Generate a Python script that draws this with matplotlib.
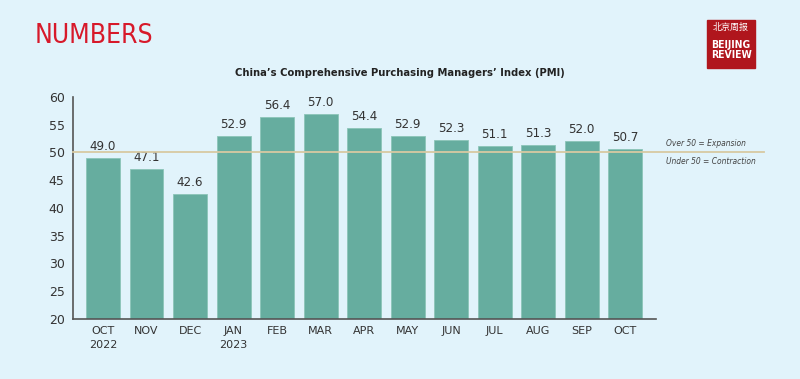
import matplotlib.pyplot as plt
from matplotlib.patches import Rectangle

months = ["OCT\n2022", "NOV", "DEC", "JAN\n2023", "FEB", "MAR", "APR",
          "MAY", "JUN", "JUL", "AUG", "SEP", "OCT"]
pmi = [49.0, 47.1, 42.6, 52.9, 56.4, 57.0, 54.4, 52.9, 52.3, 51.1, 51.3, 52.0, 50.7]
yticks = [20, 25, 30, 35, 40, 45, 50, 55, 60]

bg = "#e1f3fb"
bar_color = "#66ad9f"
txt = "#333333"

fig = plt.figure(figsize=(8, 3.79), dpi=100, facecolor=bg)
ax = fig.add_axes([73/800, 1-319/379, (656-73)/800, (319-97)/379])
ax.set_facecolor(bg)

x = list(range(len(pmi)))
ax.bar(x, pmi, width=0.78, color=bar_color, edgecolor="#8cc5b8", linewidth=0.6, zorder=2)
for xi, v in zip(x, pmi):
    ax.text(xi, v + 0.9, f"{v:.1f}", ha="center", va="bottom", fontsize=9.5, color=txt,
            stretch="condensed")

# 50 line, runs past the axes to the notes
ax.axhline(50, xmin=0, xmax=(764-73)/(656-73), color="#d8c9a2", linewidth=1.3,
           clip_on=False, zorder=3)
ax.text(1.018, 50.8, "Over 50 = Expansion", transform=ax.get_yaxis_transform(),
        fontsize=6, style="italic", color="#444444", va="bottom", ha="left",
        stretch="condensed")
ax.text(1.018, 49.1, "Under 50 = Contraction", transform=ax.get_yaxis_transform(),
        fontsize=6, style="italic", color="#444444", va="top", ha="left",
        stretch="condensed")

ax.set_ylim(20, 60)
ax.set_xlim(-0.69, 12.71)
ax.set_yticks(yticks)
ax.set_xticks(x)
ax.set_xticklabels(months, fontsize=8, color=txt, linespacing=1.5)
ax.tick_params(axis="y", length=0, labelsize=9, labelcolor=txt, pad=6)
ax.tick_params(axis="x", length=0, pad=5)
for s in ["top", "right"]:
    ax.spines[s].set_visible(False)
for s in ["left", "bottom"]:
    ax.spines[s].set_color("#555555")
    ax.spines[s].set_linewidth(1.2)

fig.text(0.5, 1-73/379, "China\u2019s Comprehensive Purchasing Managers\u2019 Index (PMI)",
         ha="center", va="center", fontsize=8, fontweight="bold", color="#222222",
         stretch="condensed")

fig.text(35/800, 1-36/379, "NUMBERS", fontsize=19, color="#d7192a",
         family="DejaVu Sans", stretch="condensed", va="center", ha="left")

# logo
fig.patches.append(Rectangle((707/800, 1-68/379), 48/800, 48/379,
                             transform=fig.transFigure, color="#b0161d"))
fig.text(731/800, 1-27/379, "北京周报", fontsize=6.5, color="white", ha="center", va="center",
         family=["Noto Sans CJK SC", "DejaVu Sans"])
fig.text(731/800, 1-50/379, "BEIJING\nREVIEW", fontsize=7.5, color="white", ha="center",
         va="center", fontweight="bold", linespacing=1.0, stretch="condensed")

fig.savefig("out.png", dpi=100, facecolor=bg)
